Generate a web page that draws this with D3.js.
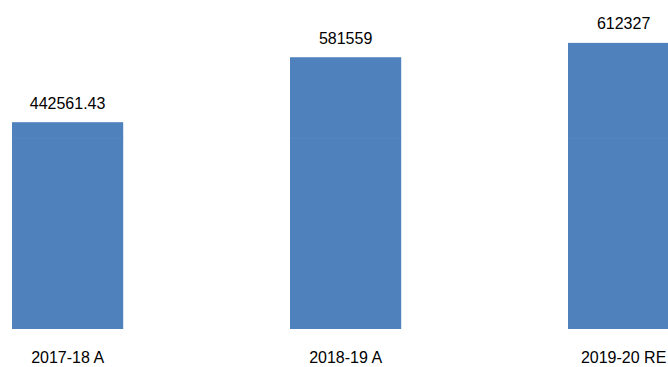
<!DOCTYPE html>
<html>
<head>
<meta charset="utf-8">
<script src="https://cdn.jsdelivr.net/npm/d3@7"></script>
<style>
html,body{margin:0;padding:0;background:#fff;}
svg{display:block;}
text{font-family:"Liberation Sans",Arial,sans-serif;font-size:16px;fill:#000;}
</style>
</head>
<body>
<svg id="chart" width="668" height="367"></svg>
<script>
const categories = ["2017-18 A", "2018-19 A", "2019-20 RE"];
const values = [442561.43, 581559, 612327];
const valueLabels = ["442561.43", "581559", "612327"];
const faintLineValue = [409000];

const W = 668, H = 367;
const svg = d3.select("#chart");

const x = d3.scaleBand()
  .domain(categories)
  .range([-71.4, 762.6])
  .paddingInner(0.6)
  .paddingOuter(0.3);

const y = d3.scaleLinear()
  .domain([0, 700000])
  .range([329, 329 - 700000 / 2140]);

const g = svg.append("g");

g.selectAll("rect.bar")
  .data(values)
  .enter().append("rect")
  .attr("class", "bar")
  .attr("x", (d, i) => x(categories[i]))
  .attr("width", x.bandwidth())
  .attr("y", d => y(d))
  .attr("height", d => y(0) - y(d))
  .attr("fill", "#4F81BD");

// faint line visible across the bars
g.selectAll("rect.faint")
  .data(values)
  .enter().append("rect")
  .attr("class", "faint")
  .attr("x", (d, i) => x(categories[i]))
  .attr("width", x.bandwidth())
  .attr("y", y(faintLineValue[0]) - 0.5)
  .attr("height", 1)
  .attr("fill", "#5687c2");

g.selectAll("text.val")
  .data(values)
  .enter().append("text")
  .attr("class", "val")
  .attr("x", (d, i) => x(categories[i]) + x.bandwidth() / 2)
  .attr("y", d => y(d) - 13.5)
  .attr("text-anchor", "middle")
  .text((d, i) => valueLabels[i]);

const xAxis = d3.axisBottom(x).tickSize(0).tickPadding(0);
const ax = svg.append("g").attr("transform", "translate(0,351)").call(xAxis);
ax.select(".domain").remove();
ax.selectAll("text")
  .attr("dy", null)
  .attr("y", 12)
  .style("font-family", "'Liberation Sans',Arial,sans-serif")
  .style("font-size", "16px")
  .attr("fill", "#000");
</script>
</body>
</html>
